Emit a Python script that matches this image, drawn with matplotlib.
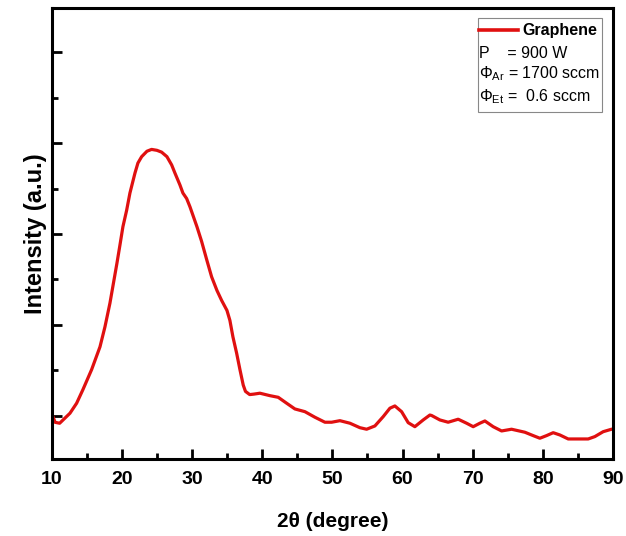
"""XRD pattern of graphene film (P = 900 W, Ar 1700 sccm, Et 0.6 sccm)."""
import matplotlib
matplotlib.use("Agg")
import matplotlib.pyplot as plt
from matplotlib.patches import Rectangle
from matplotlib.ticker import MultipleLocator, NullFormatter

plt.rcParams["font.family"] = ["Liberation Sans", "DejaVu Sans"]
plt.rcParams["mathtext.fontset"] = "custom"
plt.rcParams["mathtext.rm"] = "Liberation Sans"
plt.rcParams["mathtext.it"] = "Liberation Sans:italic"

# ── Data ─────────────────────────────────────────────────────────────────────
two_theta = [
    10.0, 10.45, 11.1, 12.57, 13.52, 14.42, 15.66, 16.85, 17.56, 18.27,
    19.27, 19.70, 20.12, 20.65, 21.12, 21.84, 22.26, 22.79, 23.55, 24.21,
    24.97, 25.64, 26.40, 27.07, 27.54, 28.25, 28.68, 29.21, 29.68, 30.68,
    31.34, 32.10, 32.77, 33.53, 34.20, 34.96, 35.38, 35.81, 36.34, 36.81,
    37.28, 37.6, 38.2, 38.8, 39.66, 41.09, 42.27, 43.47, 44.65, 46.08,
    47.50, 48.93, 49.89, 51.07, 52.50, 53.92, 54.88, 56.06, 57.24, 58.20,
    58.91, 59.87, 60.81, 61.76, 62.95, 63.90, 64.15, 65.33, 66.51, 67.94,
    69.14, 70.08, 71.03, 71.75, 72.93, 74.13, 75.55, 77.45, 78.63, 79.59,
    80.55, 81.49, 82.44, 83.63, 85.05, 86.48, 87.43, 88.62, 89.81, 90.0,
]
intensity = [
    1.02, 0.93, 0.92, 1.03, 1.14, 1.29, 1.51, 1.76, 1.98, 2.24,
    2.68, 2.88, 3.08, 3.26, 3.45, 3.67, 3.78, 3.85, 3.91, 3.93,
    3.92, 3.90, 3.85, 3.76, 3.67, 3.54, 3.45, 3.39, 3.30, 3.08,
    2.92, 2.71, 2.53, 2.38, 2.27, 2.16, 2.05, 1.87, 1.69, 1.51,
    1.34, 1.27, 1.235, 1.24, 1.25, 1.223, 1.205, 1.14, 1.077, 1.047,
    0.986, 0.931, 0.931, 0.948, 0.920, 0.871, 0.854, 0.890, 0.992, 1.085,
    1.110, 1.047, 0.926, 0.882, 0.956, 1.010, 1.005, 0.956, 0.931, 0.964,
    0.920, 0.882, 0.920, 0.945, 0.882, 0.835, 0.854, 0.821, 0.784, 0.755,
    0.784, 0.816, 0.791, 0.747, 0.747, 0.747, 0.773, 0.827, 0.854, 0.855,
]

legend_label = "Graphene"
condition_lines = [
    r"P    = 900 W",
    r"$\Phi_{\rm Ar}$ = 1700 sccm",
    r"$\Phi_{\rm Et}$ =  0.6 sccm",
]

RED = "#E01010"

# ── Plot ─────────────────────────────────────────────────────────────────────
fig = plt.figure(figsize=(6.26, 5.36), dpi=100)
ax = fig.add_axes([0.083, 0.1437, 0.896, 0.8413])

ax.plot(two_theta, intensity, color=RED, linewidth=2.3,
        solid_joinstyle="round", solid_capstyle="round")

ax.set_xlim(10, 90)
ax.set_ylim(0.527, 5.484)

ax.xaxis.set_major_locator(MultipleLocator(10))
ax.xaxis.set_minor_locator(MultipleLocator(5))
ax.yaxis.set_major_locator(MultipleLocator(1))
ax.yaxis.set_minor_locator(MultipleLocator(0.5))
ax.yaxis.set_major_formatter(NullFormatter())

ax.tick_params(axis="both", which="major", direction="in", length=7, width=2)
ax.tick_params(axis="both", which="minor", direction="in", length=4, width=2)
ax.tick_params(axis="x", which="major", pad=9, labelsize=14)
ax.tick_params(top=False, right=False, which="both")
for lbl in ax.get_xticklabels():
    lbl.set_fontweight("bold")

for sp in ax.spines.values():
    sp.set_linewidth(2.2)

ax.set_xlabel("2θ (degree)", fontsize=15, fontweight="bold", labelpad=17)
ax.set_ylabel("Intensity (a.u.)", fontsize=17, fontweight="bold")
ax.yaxis.set_label_coords(-0.008, 0.5)

# Legend box with deposition conditions
ax.add_patch(Rectangle((0.759, 0.769), 0.221, 0.209, transform=ax.transAxes,
                       facecolor="white", edgecolor="#888888", linewidth=0.8,
                       zorder=5))
ax.plot([0.762, 0.831], [0.951, 0.951], color=RED, linewidth=2.6,
        transform=ax.transAxes, zorder=6)
ax.text(0.838, 0.951, legend_label, transform=ax.transAxes, fontsize=11.5,
        fontweight="bold", va="center", ha="left", zorder=6)
for txt, yy in zip(condition_lines, [0.900, 0.854, 0.803]):
    ax.text(0.762, yy, txt, transform=ax.transAxes, fontsize=11.5,
            va="center", ha="left", zorder=6)

fig.savefig("out.png", dpi=100)
